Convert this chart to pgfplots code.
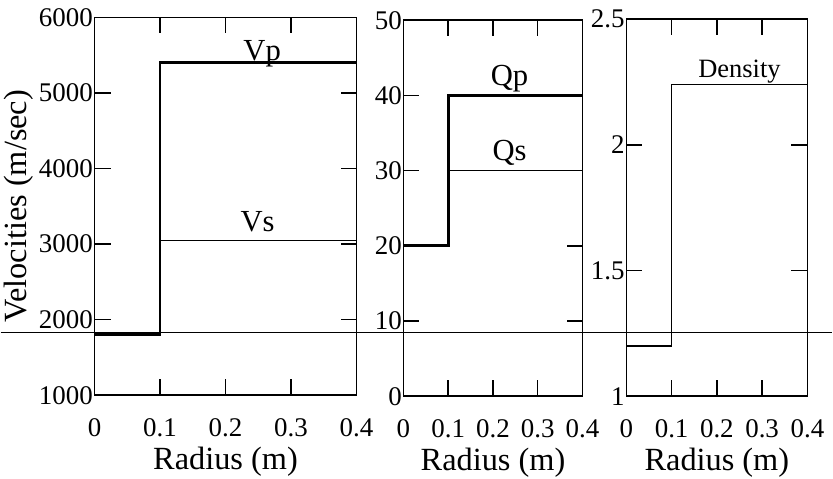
\documentclass[border=0pt]{standalone}
\usepackage{fontspec}
\setmainfont{Liberation Serif}
\usepackage{pgfplots}
\pgfplotsset{compat=1.18}
\begin{document}
\begin{tikzpicture}
\pgfplotsset{
  panel/.style={
    scale only axis,
    xmin=0, xmax=0.4,
    xtick={0,0.1,0.2,0.3,0.4},
    tick align=inside, tick pos=both,
    major tick length=6.5pt,
    axis line style={line width=0.6pt},
    every tick/.style={line width=0.6pt, black},
    ticklabel style={font=\fontsize{11}{13}\selectfont},
    label style={font=\fontsize{13.2}{15}\selectfont},
    /pgf/number format/assume math mode=true,
    /pgf/number format/fixed,
    /pgf/number format/1000 sep={},
    scaled ticks=false,
    xticklabel style={yshift=-6pt},
    yticklabel style={inner xsep=0.5pt},
    xlabel={Radius (m)},
    xlabel style={inner ysep=0.5pt},
    ylabel style={inner sep=1.5pt},
  },
}
% velocities
\begin{axis}[panel, at={(0pt,0pt)}, width=106.9pt, height=154.3pt,
  ymin=1000, ymax=6000, ytick={1000,2000,...,6000},
  ylabel={Velocities (m/sec)}]
\addplot[black, line width=0.4pt] coordinates {(0,1800) (0.1,1800) (0.1,3050) (0.4,3050)};
\addplot[black, line width=1.1pt] coordinates {(0,1800) (0.1,1800) (0.1,5400) (0.4,5400)};
\node[font=\fontsize{12.5}{14}\selectfont] at (axis cs:0.256,5520) {Vp};
\node[font=\fontsize{12.5}{14}\selectfont] at (axis cs:0.249,3290) {Vs};
\coordinate (hl) at (axis cs:0,1830);
\end{axis}
% Q
\begin{axis}[panel, at={(126.1pt,-0.4pt)}, width=73.1pt, height=153.5pt,
  ymin=0, ymax=50, ytick={0,10,...,50}]
\addplot[black, line width=0.4pt] coordinates {(0,20) (0.1,20) (0.1,30) (0.4,30)};
\addplot[black, line width=1.1pt] coordinates {(0,20) (0.1,20) (0.1,40) (0.4,40)};
\node[font=\fontsize{12.5}{14}\selectfont] at (axis cs:0.237,42.2) {Qp};
\node[font=\fontsize{12.5}{14}\selectfont] at (axis cs:0.237,32.3) {Qs};
\end{axis}
% density
\begin{axis}[panel, at={(217.1pt,-0.4pt)}, width=73.9pt, height=153.9pt,
  ymin=1, ymax=2.5, ytick={1,1.5,2,2.5}]
\addplot[black, line width=0.6pt] coordinates {(0,1.2) (0.1,1.2) (0.1,2.24) (0.4,2.24)};
\node[font=\fontsize{10.8}{12}\selectfont] at (axis cs:0.25,2.29) {Density};
\end{axis}
\draw[line width=0.5pt] (current bounding box.west |- hl) -- (current bounding box.east |- hl);
\end{tikzpicture}
\end{document}
